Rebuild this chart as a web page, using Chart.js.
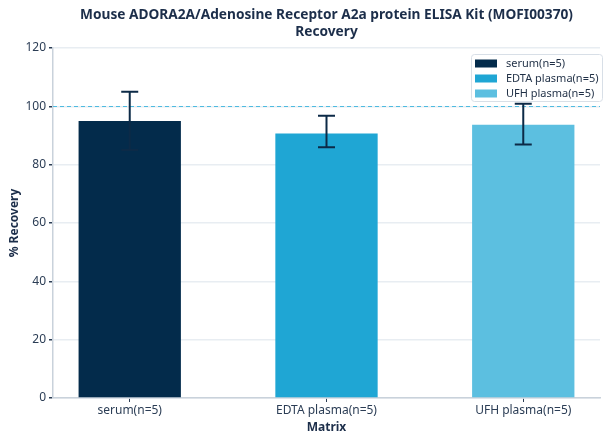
<!doctype html>
<html lang="en">
  <head>
    <meta charset="utf-8">
    <style>
      * { margin: 0; padding: 0; }
      body { background: #fff; }
      .chartBox { width: 608px; height: 444px; }
    </style>
  </head>
  <body>
    <div class="chartBox">
      <canvas id="myChart"></canvas>
    </div>

    <script src="https://cdn.jsdelivr.net/npm/chart.js/dist/chart.umd.min.js"></script>
    <script>
// data
const categories = ['serum(n=5)', 'EDTA plasma(n=5)', 'UFH plasma(n=5)'];
const recovery = [95, 90.7, 93.7];
const errLow = [85, 86, 86.9];
const errHigh = [105, 96.8, 100.9];
const yTicks = [0, 20, 40, 60, 80, 100, 120];
const refValue = 100;
const titleLines = ['Mouse ADORA2A/Adenosine Receptor A2a protein ELISA Kit (MOFI00370)', 'Recovery'];

const colors = ['#032b4b', '#1fa6d4', '#5cbfe0'];
const textColor = '#2b3d55';
const font = "'Noto Sans', sans-serif";

// error bars
const errorBars = {
  id: 'errorBars',
  afterDatasetsDraw(chart) {
    const { ctx, scales: { x, y } } = chart;
    ctx.save();
    ctx.strokeStyle = '#0c2a47';
    ctx.lineWidth = 2;
    recovery.forEach((v, i) => {
      const px = x.getPixelForValue(i);
      const top = y.getPixelForValue(errHigh[i]);
      const bot = y.getPixelForValue(errLow[i]);
      ctx.beginPath();
      ctx.moveTo(px, top); ctx.lineTo(px, bot);
      ctx.moveTo(px - 8.5, top); ctx.lineTo(px + 8.5, top);
      ctx.moveTo(px - 8.5, bot); ctx.lineTo(px + 8.5, bot);
      ctx.stroke();
    });
    ctx.restore();
  }
};

// dashed 100% line
const refLine = {
  id: 'refLine',
  beforeDatasetsDraw(chart) {
    const { ctx, chartArea: { left, right }, scales: { y } } = chart;
    const py = Math.round(y.getPixelForValue(refValue)) + 0.5;
    ctx.save();
    ctx.strokeStyle = '#4fbbe0';
    ctx.lineWidth = 1;
    ctx.setLineDash([4, 3]);
    ctx.beginPath();
    ctx.moveTo(left, py); ctx.lineTo(right, py);
    ctx.stroke();
    ctx.restore();
  }
};

// title centred over the plot area
const axesTitle = {
  id: 'axesTitle',
  afterDraw(chart) {
    const { ctx, chartArea: { left, right } } = chart;
    ctx.save();
    ctx.font = 'bold 13.7px ' + font;
    ctx.fillStyle = '#1c2e4a';
    ctx.textAlign = 'center';
    ctx.textBaseline = 'middle';
    titleLines.forEach((t, i) => ctx.fillText(t, (left + right) / 2, 15 + i * 17));
    ctx.restore();
  }
};

// legend inside the plot, top right
const boxLegend = {
  id: 'boxLegend',
  afterDraw(chart) {
    const { ctx, chartArea: { right, top } } = chart;
    const w = 131, h = 47;
    const bx = right + 2 - w, by = top + 6;
    ctx.save();
    ctx.fillStyle = 'rgba(255,255,255,0.85)';
    ctx.strokeStyle = '#d8dfe7';
    ctx.lineWidth = 1;
    ctx.beginPath();
    ctx.roundRect(bx + 0.5, by + 0.5, w, h, 3);
    ctx.fill();
    ctx.stroke();
    ctx.font = '11px ' + font;
    ctx.textBaseline = 'middle';
    categories.forEach((c, i) => {
      const ry = by + 9.5 + i * 15;
      ctx.fillStyle = colors[i];
      ctx.fillRect(bx + 4, ry - 4, 22, 8);
      ctx.fillStyle = '#1f2f45';
      ctx.fillText(c, bx + 35, ry);
    });
    ctx.restore();
  }
};

const config = {
  type: 'bar',
  data: {
    datasets: [{
      data: recovery.map((v, i) => ({ x: i, y: v })),
      backgroundColor: colors,
      borderWidth: 0,
      barPercentage: 0.52,
      categoryPercentage: 1
    }]
  },
  options: {
    responsive: false,
    animation: false,
    layout: { padding: { left: 7, right: 8, top: 48, bottom: 9 } },
    scales: {
      x: {
        type: 'linear',
        offset: false,
        min: -0.39,
        max: 2.39,
        afterBuildTicks: (s) => { s.ticks = categories.map((c, i) => ({ value: i })); },
        afterFit: (s) => { s.height = 37; },
        ticks: {
          color: textColor,
          font: { family: font, size: 12 },
          padding: 1,
          maxRotation: 0,
          autoSkip: false,
          callback: (v) => categories[v]
        },
        grid: { offset: false, drawOnChartArea: false, drawTicks: true, tickLength: 4, color: '#2b3d55' },
        border: { color: '#c9d2db', width: 1.5 },
        title: {
          display: true,
          text: 'Matrix',
          color: '#1c2e4a',
          font: { family: font, size: 12, weight: 'bold' },
          padding: { top: 0, bottom: 0 }
        }
      },
      y: {
        min: 0,
        max: 120,
        afterBuildTicks: (s) => { s.ticks = yTicks.map(v => ({ value: v })); },
        afterFit: (s) => { s.width = 46; },
        ticks: {
          color: textColor,
          font: { family: font, size: 12 },
          padding: 3
        },
        grid: { color: '#e8edf2', lineWidth: 1.5, tickLength: 4, tickColor: '#2b3d55' },
        border: { color: '#c9d2db', width: 1.5 },
        title: {
          display: true,
          text: '% Recovery',
          color: '#1c2e4a',
          font: { family: font, size: 12, weight: 'bold' },
          padding: { top: 0, bottom: 4 }
        }
      }
    },
    plugins: {
      legend: { display: false },
      tooltip: { enabled: false },
      title: { display: false }
    }
  },
  plugins: [refLine, errorBars, boxLegend, axesTitle]
};

const canvas = document.getElementById('myChart');
canvas.width = 608;
canvas.height = 444;
const myChart = new Chart(canvas, config);
    </script>
  </body>
</html>
